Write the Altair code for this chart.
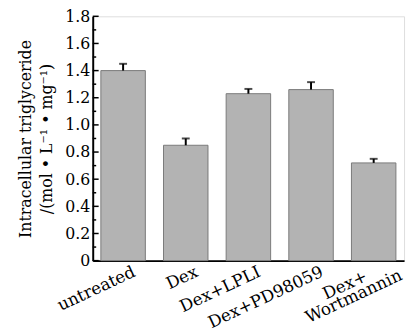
import altair as alt
import pandas as pd

categories = ["untreated", "Dex", "Dex+LPLI", "Dex+PD98059", "Dex+Wortmannin"]
x_labels = ["untreated", "Dex", "Dex+LPLI", "Dex+PD98059", "Dex+\nWortmannin"]
values = [1.40, 0.85, 1.23, 1.26, 0.72]
errors = [0.05, 0.05, 0.035, 0.055, 0.03]

major_ticks = [0.0, 0.2, 0.4, 0.6, 0.8, 1.0, 1.2, 1.4, 1.6, 1.8]
minor_ticks = [0.1, 0.3, 0.5, 0.7, 0.9, 1.1, 1.3, 1.5, 1.7]

df = pd.DataFrame({"cat": categories, "val": values, "err": errors})
df["top"] = df["val"] + df["err"]

single = [(c, l) for c, l in zip(categories, x_labels) if "\n" not in l]
double = [(c, l.split("\n")) for c, l in zip(categories, x_labels) if "\n" in l]
lab_main = pd.DataFrame({"cat": [c for c, _ in single], "lab": [l for _, l in single]})
lab_l1 = pd.DataFrame({"cat": [c for c, _ in double], "lab": [p[0] for _, p in double]})
lab_l2 = pd.DataFrame({"cat": [c for c, _ in double], "lab": [p[1] for _, p in double]})

FONT = "DejaVu Serif"

yscale = alt.Scale(domain=[0, 1.8], nice=False, zero=True)
xscale = alt.Scale(domain=categories, paddingInner=0.29, paddingOuter=0.13)

x_axis = alt.Axis(title=None, labels=False, ticks=False,
                  domainColor="black", domainWidth=2, grid=False)

y_axis = alt.Axis(
    title=["Intracellular triglyceride", "/(mol • L⁻¹ • mg⁻¹)"],
    titleFont=FONT, titleFontSize=16, titleFontWeight="normal", titleColor="black",
    titleAngle=270, titleAlign="center", titleBaseline="middle",
    titleX=-68, titleY=124, titleLineHeight=21,
    values=major_ticks,
    labelExpr="datum.value == 0 ? '0' : format(datum.value, '.1f')",
    labelFont=FONT, labelFontSize=16, labelColor="black",
    labelOverlap=False, labelPadding=3, ticks=False, domainColor="black", domainWidth=2, grid=False)

X = alt.X("cat:N", scale=xscale, sort=categories, axis=x_axis)

bars = alt.Chart(df).mark_bar(fill="#b3b3b3", stroke="#7a7a7a", strokeWidth=1).encode(
    x=X, y=alt.Y("val:Q", scale=yscale, axis=y_axis))

err_rule = alt.Chart(df).mark_rule(color="black", strokeWidth=2).encode(
    x=X, y=alt.Y("val:Q", scale=yscale, axis=y_axis), y2="top:Q")

caps = alt.Chart(df).mark_tick(color="black", thickness=2, size=8, orient="horizontal").encode(
    x=X, y=alt.Y("top:Q", scale=yscale, axis=y_axis))

maj = alt.Chart(pd.DataFrame({"t": major_ticks})).mark_rule(color="black", strokeWidth=1.5).encode(
    y=alt.Y("t:Q", scale=yscale, axis=y_axis), x=alt.value(0), x2=alt.value(6))
mnr = alt.Chart(pd.DataFrame({"t": minor_ticks})).mark_rule(color="black", strokeWidth=1.5).encode(
    y=alt.Y("t:Q", scale=yscale, axis=y_axis), x=alt.value(0), x2=alt.value(3.5))

text_kw = dict(align="right", baseline="top", font=FONT, fontSize=17, color="black")
t_main = alt.Chart(lab_main).mark_text(dx=7.5, dy=3, **text_kw).encode(
    x=X, y=alt.value(252), text="lab:N", angle=alt.value(335))
t_l1 = alt.Chart(lab_l1).mark_text(dx=-11.5, dy=-1, **text_kw).encode(
    x=X, y=alt.value(252), text="lab:N", angle=alt.value(335))
t_l2 = alt.Chart(lab_l2).mark_text(dx=21, dy=13, **text_kw).encode(
    x=X, y=alt.value(252), text="lab:N", angle=alt.value(335))

chart = alt.layer(bars, err_rule, caps, maj, mnr, t_main, t_l1, t_l2).properties(
    width=316, height=248,
    autosize=alt.AutoSizeParams(type="none"),
    padding={"left": 86, "top": 6, "right": 4, "bottom": 70},
).configure_view(stroke=None).configure(background="white")

chart.save("out.html", embed_options={"renderer": "svg", "actions": False})
